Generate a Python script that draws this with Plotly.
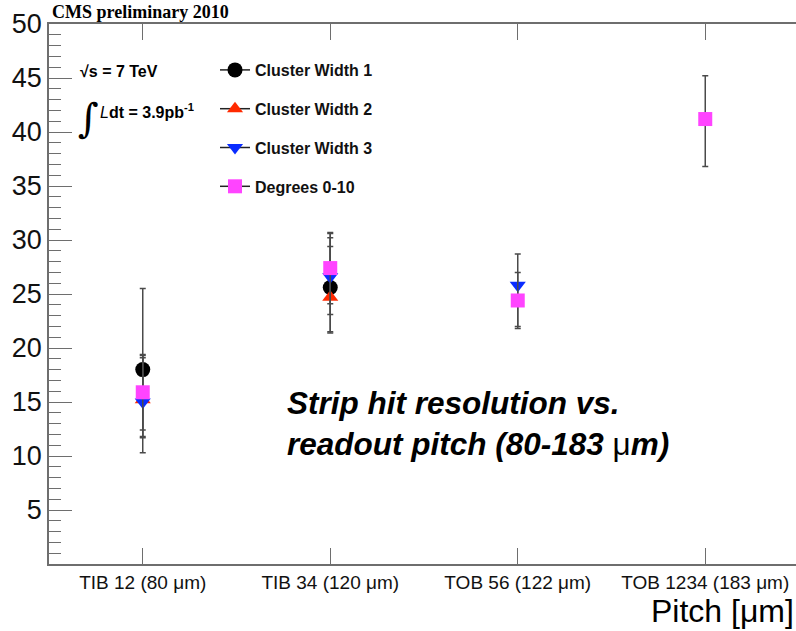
import plotly.graph_objects as go

# Detector layers (tick labels) and per-layer hit resolution in micrometres
categories = ["TIB 12 (80 μm)", "TIB 34 (120 μm)", "TOB 56 (122 μm)", "TOB 1234 (183 μm)"]

cw1 = [18.0, 25.6, None, None]
cw1_up = [7.5, 4.6, None, None]
cw1_dn = [7.7, 4.1, None, None]

cw2 = [15.2, 24.7, None, None]
cw2_up = [3.9, 4.7, None, None]
cw2_dn = [3.4, 1.6, None, None]

cw3 = [15.0, 26.6, 25.8, None]
cw3_up = [4.3, 4.0, 2.9, None]
cw3_dn = [3.3, 5.2, 3.8, None]

deg = [15.9, 27.4, 24.4, 41.2]
deg_up = [3.5, 3.3, 2.6, 4.0]
deg_dn = [3.5, 3.3, 2.6, 4.4]

series = [
    ("Cluster Width 1", cw1, cw1_up, cw1_dn, "circle", "#000000", 15),
    ("Cluster Width 2", cw2, cw2_up, cw2_dn, "triangle-up", "#ff2a00", 14),
    ("Cluster Width 3", cw3, cw3_up, cw3_dn, "triangle-down", "#0a2cff", 14),
    ("Degrees 0-10", deg, deg_up, deg_dn, "square", "#ff44ff", 14),
]

AX = "#6e6e6e"
fig = go.Figure()

for name, vals, up, dn, sym, col, sz in series:
    fig.add_trace(go.Scatter(
        x=categories, y=vals, mode="markers", showlegend=False, name=name,
        marker=dict(symbol=sym, color=col, size=sz, line=dict(width=0)),
        error_y=dict(type="data", symmetric=False, array=up, arrayminus=dn,
                     color="#4a4a4a", thickness=1.5, width=3),
    ))

# legend entries: marker on a short black line
for i, (name, vals, up, dn, sym, col, sz) in enumerate(series):
    fig.add_trace(go.Scatter(
        x=[None], y=[None], mode="lines+markers", name=name,
        legendgroup=f"g{i}",
        line=dict(color="#222222", width=1.5),
        marker=dict(symbol=sym, color=col, size=sz),
    ))

fig.update_layout(
    width=796, height=631,
    margin=dict(l=49, r=0, t=24, b=67),
    paper_bgcolor="white", plot_bgcolor="white",
    font=dict(family="Liberation Sans", color="black"),
    showlegend=True,
    legend=dict(
        x=(215 - 49) / 747, y=(564 - 53) / 540, xanchor="left", yanchor="top",
        bgcolor="rgba(0,0,0,0)", borderwidth=0,
        font=dict(family="Liberation Sans", size=16, weight="bold", color="#111111"),
        tracegroupgap=15, itemsizing="trace",
    ),
    xaxis=dict(
        type="category", range=[-0.5, 3.484],
        showline=True, linecolor=AX, linewidth=1.5, mirror="ticks",
        ticks="inside", ticklen=16, tickcolor=AX, tickwidth=1.2,
        showgrid=False, zeroline=False,
        tickfont=dict(family="Liberation Sans", size=19, color="#111111"),
    ),
    yaxis=dict(
        range=[0, 50], tickvals=[5, 10, 15, 20, 25, 30, 35, 40, 45, 50],
        showline=True, linecolor=AX, linewidth=1.5, mirror=False,
        ticks="inside", ticklen=23, tickcolor=AX, tickwidth=1.2,
        minor=dict(tick0=0, dtick=1, ticks="inside", ticklen=12, tickcolor=AX, tickwidth=1.2),
        showgrid=False, zeroline=False,
        tickfont=dict(family="Liberation Sans", size=27, color="#111111"),
    ),
)

def px(xp, yp):
    return (xp - 49) / 747, (564 - yp) / 540

ann = []
x0, y0 = px(50, 12)
ann.append(dict(x=x0, y=y0, text="<b>CMS preliminary 2010</b>", xanchor="left", yanchor="middle",
                font=dict(family="Liberation Serif", size=18, color="black")))
x0, y0 = px(78, 71)
ann.append(dict(x=x0, y=y0, text="<b>√s = 7 TeV</b>", xanchor="left", yanchor="middle",
                font=dict(family="Liberation Sans", size=16, color="black")))
x0, y0 = px(76, 118)
ann.append(dict(x=x0, y=y0, text="∫", xanchor="left", yanchor="middle",
                font=dict(family="DejaVu Serif", size=40, color="black")))
x0, y0 = px(98, 111)
ann.append(dict(x=x0, y=y0, text="<i>L</i><b>dt = 3.9pb<sup>-1</sup></b>", xanchor="left", yanchor="middle",
                font=dict(family="Liberation Sans", size=16, color="black")))
x0, y0 = px(285, 383)
ann.append(dict(x=x0, y=y0,
                text="<b><i>Strip hit resolution vs.</i></b><br><b><i>readout pitch (80-183 </i></b>μ<b><i>m)</i></b>",
                xanchor="left", yanchor="top", align="left",
                font=dict(family="Liberation Sans", size=31.5, color="black")))
ann.append(dict(x=1.0, y=(564 - 611) / 540, text="Pitch [μm]", xanchor="right", yanchor="middle",
                font=dict(family="Liberation Sans", size=32, color="black")))
for a in ann:
    a.update(xref="paper", yref="paper", showarrow=False)
fig.update_layout(annotations=ann)

fig.write_html("out.html")
